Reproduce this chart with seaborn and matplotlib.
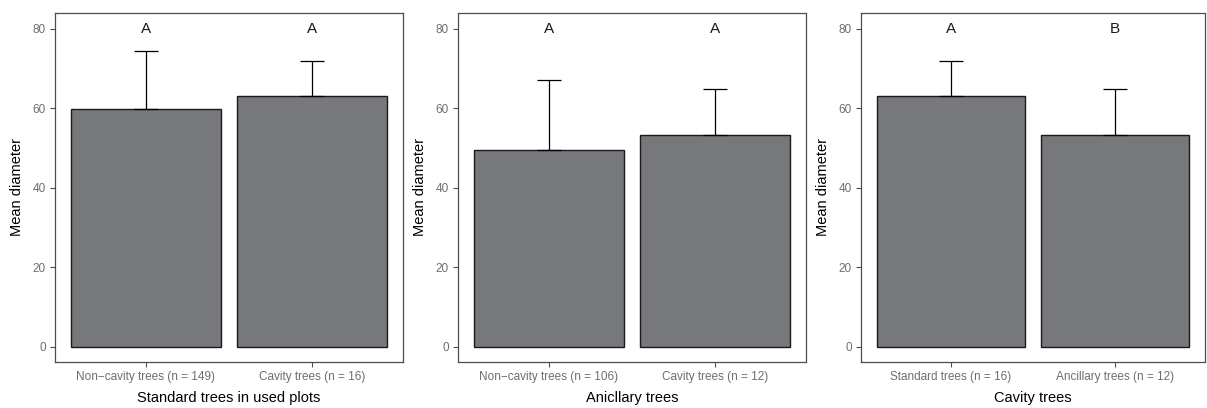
import numpy as np
import pandas as pd
import matplotlib
matplotlib.use("Agg")
import matplotlib.pyplot as plt
import seaborn as sns

# values
panel_titles = ["Standard trees in used plots", "Anicllary trees", "Cavity trees"]
categories = [
    ["Non\u2212cavity trees (n = 149)", "Cavity trees (n = 16)"],
    ["Non\u2212cavity trees (n = 106)", "Cavity trees (n = 12)"],
    ["Standard trees (n = 16)", "Ancillary trees (n = 12)"],
]
means = [[59.9, 63.2], [49.6, 53.4], [63.2, 53.4]]
upper = [[74.4, 72.0], [67.2, 65.0], [72.0, 65.0]]
letters = [["A", "A"], ["A", "A"], ["A", "B"]]

sns.set_theme(style="white")
plt.rcParams["font.family"] = ["Liberation Sans", "DejaVu Sans"]

fig = plt.figure(figsize=(12.07, 4.08), dpi=100)
lefts = [55 / 1207, 458 / 1207, 861 / 1207]
widths = [348 / 1207, 348 / 1207, 344 / 1207]

bar_color = "#77787b"
for i in range(3):
    ax = fig.add_axes([lefts[i], 46 / 408, widths[i], 349 / 408])
    df = pd.DataFrame({"group": categories[i], "mean": means[i]})
    sns.barplot(data=df, x="group", y="mean", color=bar_color, saturation=1,
                edgecolor="#1a1a1a", linewidth=1.0, width=0.9, ax=ax)
    err = np.array(upper[i]) - np.array(means[i])
    ax.errorbar(range(2), means[i], yerr=[np.zeros(2), err], fmt="none",
                ecolor="black", elinewidth=0.9, capsize=8.6, capthick=0.9)
    for j in range(2):
        ax.text(j, 80, letters[i][j], ha="center", va="center", fontsize=11, color="#1a1a1a")
    ax.set_ylim(-3.8, 84.0)
    ax.set_xlim(-0.545, 1.545)
    ax.set_yticks([0, 20, 40, 60, 80])
    ax.set_ylabel("Mean diameter", fontsize=10.5, color="black", labelpad=6)
    ax.set_xlabel(panel_titles[i], fontsize=10.5, color="black", labelpad=6)
    ax.tick_params(axis="both", which="both", length=3.5, width=0.8, color="#4d4d4d",
                   labelsize=8.5, labelcolor="#6e6e6e", pad=3, bottom=True, left=True)
    for s in ax.spines.values():
        s.set_color("#4d4d4d")
        s.set_linewidth(0.9)
        s.set_visible(True)

fig.savefig("out.png", dpi=100)
